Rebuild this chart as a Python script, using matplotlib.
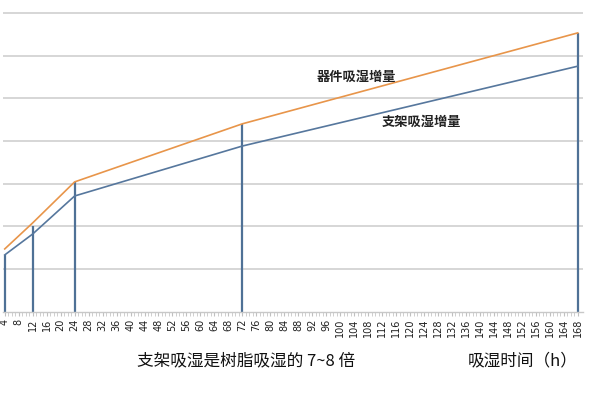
import matplotlib
matplotlib.use("Agg")
import matplotlib.pyplot as plt
import numpy as np

plt.rcParams['font.family'] = ['Noto Sans CJK SC', 'DejaVu Sans']

hours = [4, 12, 24, 72, 168]
device_gain = [1.47, 2.08, 3.04, 4.40, 6.53]   # 器件吸湿增量
frame_gain = [1.33, 1.82, 2.71, 3.88, 5.75]    # 支架吸湿增量
marker_tops = [1.33, 2.00, 3.04, 4.40, 6.53]
tick_hours = list(range(4, 169, 4))

W, H = 596, 394
fig = plt.figure(figsize=(W / 100, H / 100), dpi=100)
ax = fig.add_axes([3 / W, (H - 311.7) / H, 580 / W, 311.7 / H])

ax.set_xlim(3.5, 169.5)
ax.set_ylim(0, 7.3)

for y in range(1, 8):
    ax.axhline(y, color='#d0d0d0', lw=1.2, zorder=1)

ax.vlines(hours, 0, marker_tops, color='#4f7196', lw=1.6, zorder=2)
ax.plot(hours, device_gain, color='#e8954a', lw=1.2, zorder=3)
ax.plot(hours, frame_gain, color='#56779d', lw=1.2, zorder=3)

for s in ['top', 'right', 'left']:
    ax.spines[s].set_visible(False)
ax.spines['bottom'].set_color('#c8c8c8')
ax.spines['bottom'].set_linewidth(1.0)
ax.set_yticks([])
ax.set_xticks(tick_hours)
ax.set_xticklabels([str(t) for t in tick_hours], rotation=90, fontsize=7,
                   color='#202020', family='DejaVu Sans')
ax.set_xticks(np.arange(4, 169, 1), minor=True)
ax.tick_params(axis='x', which='major', length=3, color='#c0c0c0', pad=2)
ax.tick_params(axis='x', which='minor', length=3, color='#c8c8c8')

fig.text(356 / W, 1 - 77 / H, '器件吸湿增量', fontsize=9.5, fontweight='bold',
         color='#222222', ha='center', va='center')
fig.text(421 / W, 1 - 122 / H, '支架吸湿增量', fontsize=9.5, fontweight='bold',
         color='#222222', ha='center', va='center')

fig.text(137 / W, 1 - 361 / H, '支架吸湿是树脂吸湿的 7~8 倍', fontsize=12,
         color='#111111', ha='left', va='center')
fig.text(468 / W, 1 - 361 / H, '吸湿时间（h）', fontsize=12,
         color='#111111', ha='left', va='center')

fig.savefig('out.png', dpi=100)
